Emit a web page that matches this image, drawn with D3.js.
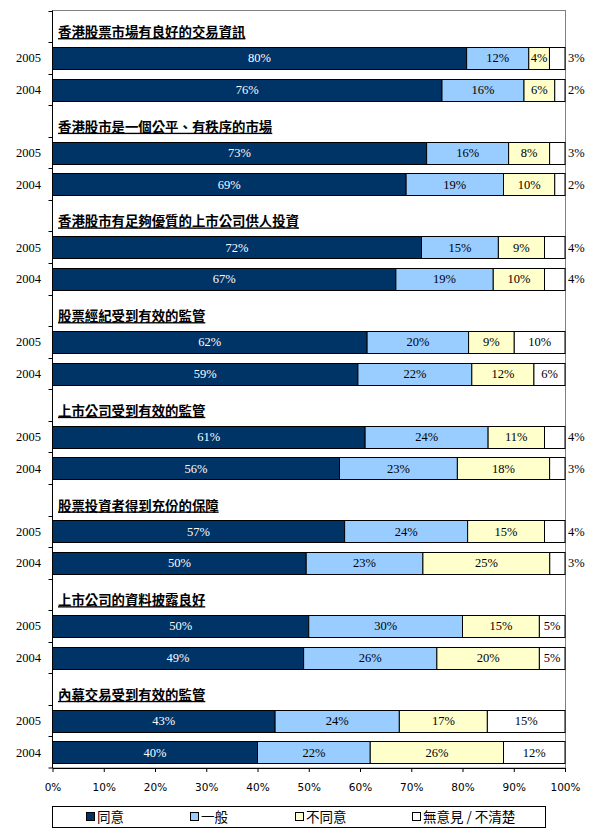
<!DOCTYPE html>
<html>

<head>
    <meta charset='utf-8'>
    <title>香港股票市場意見調查</title>
    <script type="text/javascript" src="https://cdnjs.cloudflare.com/ajax/libs/d3/7.8.5/d3.min.js"></script>
    <style>
        body { margin: 0; background: #fff; }
    </style>
</head>

<body>
    <script>
        // statements (one per group, top to bottom)
        const groups = [
            "香港股票市場有良好的交易資訊",
            "香港股市是一個公平、有秩序的市場",
            "香港股市有足夠優質的上市公司供人投資",
            "股票經紀受到有效的監管",
            "上市公司受到有效的監管",
            "股票投資者得到充份的保障",
            "上市公司的資料披露良好",
            "內幕交易受到有效的監管"
        ];
        const years = ["2005", "2004"];

        // values in order group1-2005, group1-2004, group2-2005 ...
        const agree     = [80, 76, 73, 69, 72, 67, 62, 59, 61, 56, 57, 50, 50, 49, 43, 40];
        const neutral   = [12, 16, 16, 19, 15, 19, 20, 22, 24, 23, 24, 23, 30, 26, 24, 22];
        const disagree  = [4, 6, 8, 10, 9, 10, 9, 12, 11, 18, 15, 25, 15, 20, 17, 26];
        const noOpinion = [3, 2, 3, 2, 4, 4, 10, 6, 4, 3, 4, 3, 5, 5, 15, 12];

        const seriesNames = ["同意", "一般", "不同意", "無意見 / 不清楚"];
        const seriesKeys = ["agree", "neutral", "disagree", "noOpinion"];
        const colors = ["#003366", "#99ccff", "#ffffcc", "#ffffff"];
        const xTicks = [0, 0.1, 0.2, 0.3, 0.4, 0.5, 0.6, 0.7, 0.8, 0.9, 1];

        const w = 603;
        const h = 840;
        const plotL = 52.5, plotR = 565.5, plotT = 10.5, plotB = 768;

        // build rows: title row + one row per year
        const rows = [];
        const bars = [];
        groups.forEach((g, gi) => {
            rows.push("t" + gi);
            years.forEach((yr, yi) => {
                const i = gi * 2 + yi;
                const key = gi + "-" + yr;
                rows.push(key);
                bars.push({
                    key: key, year: yr,
                    agree: agree[i], neutral: neutral[i],
                    disagree: disagree[i], noOpinion: noOpinion[i]
                });
            });
        });

        const xScale = d3.scaleLinear().domain([0, 1]).range([plotL, plotR - 0.5]);
        const yScale = d3.scaleBand().domain(rows).range([plotT, plotB]).padding(0);
        const bw = yScale.bandwidth();
        const barH = bw * 0.685;
        const barOff = (bw - barH) / 2;

        const stack = d3.stack().keys(seriesKeys).offset(d3.stackOffsetExpand);
        const layers = stack(bars);

        const svg = d3.select("body")
            .append("svg")
            .attr("width", w)
            .attr("height", h);

        // plot area border
        svg.append("rect")
            .attr("x", plotL).attr("y", plotT)
            .attr("width", plotR - plotL).attr("height", plotB - plotT)
            .attr("fill", "none").attr("stroke", "#808080");

        const serif = "'Liberation Serif', 'Times New Roman', serif";
        const cjk = "'Noto Sans CJK TC', 'Noto Sans CJK SC', sans-serif";

        layers.forEach((layer, li) => {
            const g = svg.append("g");
            g.selectAll("rect")
                .data(layer)
                .enter()
                .append("rect")
                .attr("x", d => xScale(d[0]))
                .attr("y", d => Math.round(yScale(d.data.key) + barOff) + 0.5)
                .attr("width", d => xScale(d[1]) - xScale(d[0]))
                .attr("height", Math.round(barH))
                .attr("fill", colors[li])
                .attr("stroke", "#000")
                .attr("stroke-width", 1);

            g.selectAll("text")
                .data(layer)
                .enter()
                .append("text")
                .text(d => d.data[seriesKeys[li]] + "%")
                .attr("x", d => {
                    if (li === 3 && d.data[seriesKeys[li]] < 5) return xScale(1) + 3;
                    return (xScale(d[0]) + xScale(d[1])) / 2;
                })
                .attr("y", d => yScale(d.data.key) + bw / 2)
                .attr("dy", "0.36em")
                .attr("text-anchor", d => (li === 3 && d.data[seriesKeys[li]] < 5) ? "start" : "middle")
                .attr("fill", li === 0 ? "#fff" : "#000")
                .style("font-family", serif)
                .style("font-size", "12.5px");
        });

        // group titles
        svg.append("g").selectAll("text")
            .data(groups)
            .enter()
            .append("text")
            .text(d => d)
            .attr("x", xScale(0) + 5.5)
            .attr("y", (d, i) => yScale("t" + i) + bw - 5)
            .style("font-family", cjk)
            .style("font-weight", "bold")
            .style("font-size", "13.4px")
            .style("text-decoration", "underline");

        // left axis: line, ticks at row boundaries, year labels
        const yAxis = svg.append("g");
        yAxis.append("line")
            .attr("x1", plotL).attr("x2", plotL)
            .attr("y1", plotT).attr("y2", plotB)
            .attr("stroke", "#000");
        yAxis.selectAll("line.tick")
            .data(rows.concat(["end"]))
            .enter()
            .append("line")
            .attr("class", "tick")
            .attr("x1", plotL - 4).attr("x2", plotL)
            .attr("y1", d => d === "end" ? plotB : Math.round(yScale(d)) + 0.5)
            .attr("y2", d => d === "end" ? plotB : Math.round(yScale(d)) + 0.5)
            .attr("stroke", "#000");
        yAxis.selectAll("text")
            .data(bars)
            .enter()
            .append("text")
            .text(d => d.year)
            .attr("x", plotL - 11.5)
            .attr("y", d => yScale(d.key) + bw / 2)
            .attr("dy", "0.36em")
            .attr("text-anchor", "end")
            .style("font-family", serif)
            .style("font-size", "12.5px");

        // bottom axis
        const xAxis = d3.axisBottom(xScale)
            .tickValues(xTicks)
            .tickFormat(d3.format(".0%"))
            .tickSize(4)
            .tickSizeOuter(0);
        const gx = svg.append("g")
            .attr("transform", "translate(0," + plotB + ")")
            .call(xAxis);
        gx.select(".domain").attr("stroke", "#000");
        gx.selectAll(".tick line").attr("stroke", "#000");
        gx.selectAll(".tick text")
            .attr("y", 16)
            .attr("fill", "#000")
            .style("font-family", "'DejaVu Sans', Tahoma, sans-serif")
            .style("font-size", "10.5px");

        // legend
        const legendX = [86, 190, 295, 412];
        const legend = svg.append("g");
        legend.append("rect")
            .attr("x", 52.5).attr("y", 806.5)
            .attr("width", 493).attr("height", 21)
            .attr("fill", "#fff").attr("stroke", "#000");
        const items = legend.selectAll("g.item")
            .data(seriesNames)
            .enter()
            .append("g")
            .attr("class", "item")
            .attr("transform", (d, i) => "translate(" + legendX[i] + ",0)");
        items.append("rect")
            .attr("x", 0.5).attr("y", 812.5)
            .attr("width", 8).attr("height", 8)
            .attr("fill", (d, i) => colors[i])
            .attr("stroke", "#000");
        items.append("text")
            .text(d => d)
            .attr("x", 11)
            .attr("y", 817)
            .attr("dy", "0.36em")
            .style("font-family", cjk)
            .style("font-size", "13.5px");
    </script>
</body>

</html>
